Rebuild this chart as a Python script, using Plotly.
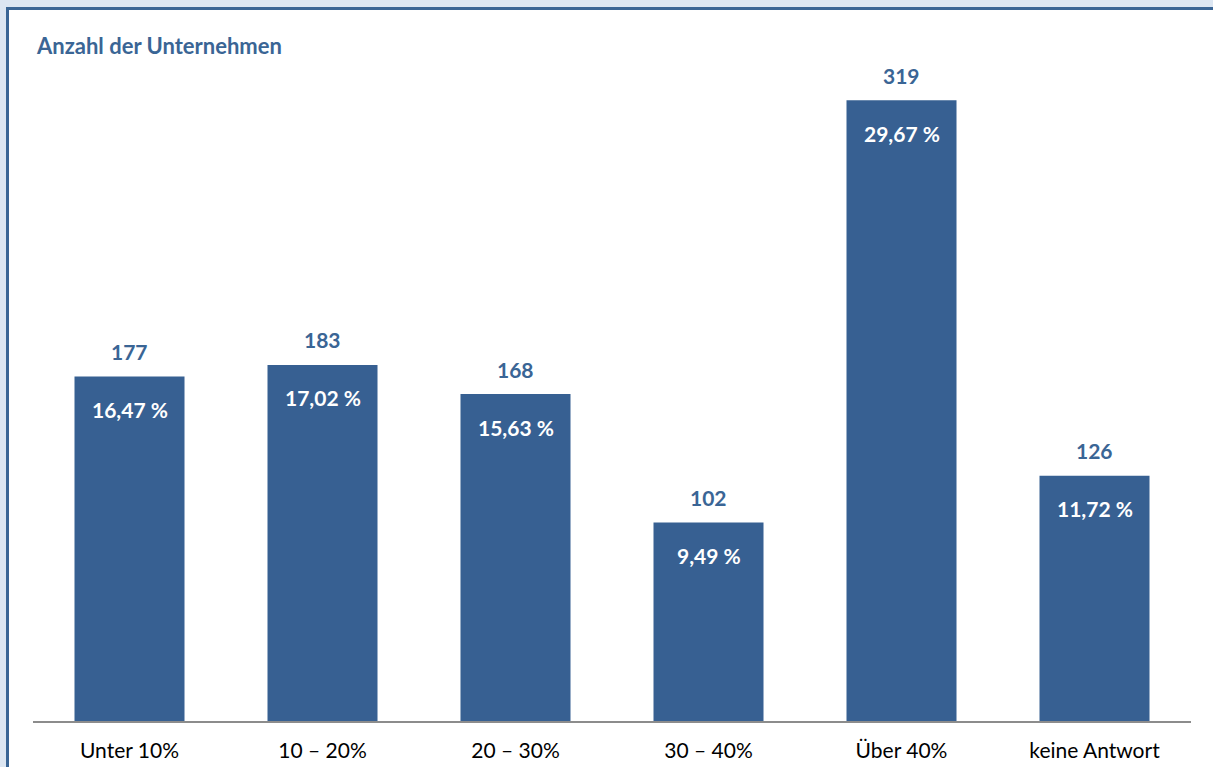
import plotly.graph_objects as go

categories = ["Unter 10%", "10 – 20%", "20 – 30%", "30 – 40%", "Über 40%", "keine Antwort"]
counts = [177, 183, 168, 102, 319, 126]
percents = ["16,47 %", "17,02 %", "15,63 %", "9,49 %", "29,67 %", "11,72 %"]
title_text = "Anzahl der Unternehmen"

BAR = "#376092"
DARK = "#3a6595"
FONT = "Lato, Open Sans, sans-serif"

fig = go.Figure()
fig.add_trace(go.Bar(x=categories, y=counts, marker=dict(color=BAR, line=dict(width=0)),
                     hoverinfo="skip"))

ann = []
for c, v, p in zip(categories, counts, percents):
    ann.append(dict(x=c, y=v, text=f"<b>{v}</b>", showarrow=False, yshift=25,
                    font=dict(size=21, color=DARK, family=FONT)))
    ann.append(dict(x=c, y=v, text=f"<b>{p}</b>", showarrow=False, yshift=-33,
                    font=dict(size=21, color="white", family=FONT)))
ann.append(dict(x=(34 - 33) / 1158, y=(721 - 46) / 681, xref="paper", yref="paper",
                xanchor="left", yanchor="middle", text=f"<b>{title_text}</b>",
                showarrow=False, font=dict(size=22, color=DARK, family=FONT)))

fig.update_layout(
    width=1213, height=767,
    margin=dict(l=33, r=22, t=40, b=46),
    paper_bgcolor="#dce6f2", plot_bgcolor="rgba(0,0,0,0)",
    bargap=0.43, showlegend=False,
    annotations=ann,
    shapes=[dict(type="rect", xref="paper", yref="paper", layer="below",
                 x0=(7.5 - 33) / 1158, x1=1.2, y0=-0.3, y1=(721 - 8.5) / 681,
                 fillcolor="white", line=dict(color=DARK, width=3))],
    xaxis=dict(showline=True, linecolor="#8c8c8c", linewidth=2, ticks="",
               automargin=False,
               ticklabelstandoff=10, tickfont=dict(size=21, color="black", family=FONT),
               showgrid=False, fixedrange=True),
    yaxis=dict(range=[0, 350], visible=False, showgrid=False, fixedrange=True,
               automargin=False),
)
fig.write_html("out.html", config={"displayModeBar": False},
               post_script="document.body.style.margin='0';document.body.style.overflow='hidden';")
